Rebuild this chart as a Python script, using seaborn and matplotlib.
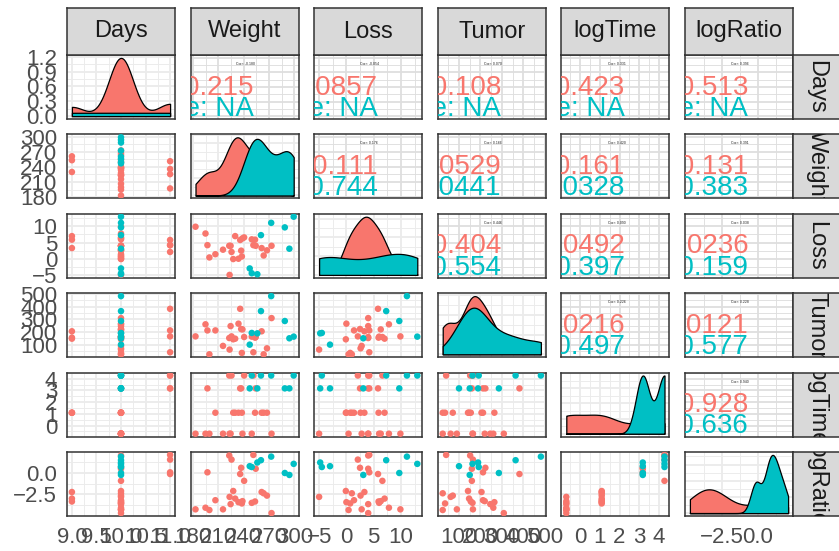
import numpy as np
import pandas as pd
import matplotlib
matplotlib.use("Agg")
import matplotlib.pyplot as plt
import seaborn as sns

# ---------------- data ----------------
variables = ["Days", "Weight", "Loss", "Tumor", "logTime", "logRatio"]
groups = ["Female", "Male"]
n_female, n_male = 26, 8

days_f = [10, 10, 11, 10, 10, 10, 10, 10, 10, 11, 10, 9, 10, 11, 10, 10, 10, 10, 10, 11, 9, 10, 9, 10, 10, 10]
weight_f = [183.1, 194.9, 197.2, 199.5, 206.6, 215.6, 223.0, 223.4, 224.6, 225.7, 227.7, 230.0, 233.9,
            235.9, 237.1, 237.9, 238.6, 240.6, 249.6, 251.5, 253.5, 254.3, 261.3, 263.7, 267.6, 273.0]
loss_f = [9.9, 7.8, 4.2, 0.4, 1.4, 2.8, 4.0, -5.0, 4.0, 2.1, -0.1, 7.0, 0.0,
          5.8, 2.5, 0.7, 6.3, 6.6, 6.0, 4.2, 5.9, 4.0, 3.3, 1.0, 2.6, 4.0]
tumor_f = [165, 260, 212, 24, 212, 90, 152, 61, 246, 165, 142, 147, 265,
           382, 223, 35, 220, 160, 163, 40, 155, 160, 205, 24, 71, 309]
logtime_f = [-0.693, -0.693, 3.178, -0.693, 1.099, -0.693, 4.277, -0.693, -0.693, 4.277, 1.099, 1.099, 1.099,
             3.178, 3.178, 1.099, -0.693, 4.277, -0.693, 4.277, 1.099, 3.178, 1.099, 1.099, 1.099, -0.693]
logratio_f = [-4.26, -4.07, 0.08, -4.34, -3.19, -4.26, 2.05, -2.8, -3.65, 1.57, -2.11, -3.0, -3.42,
              -0.12, 0.61, -3.57, -3.3, -0.92, -3.5, 2.12, -3.34, 0.5, -2.23, -2.38, -2.65, -4.7]

days_m = [10, 10, 10, 10, 10, 10, 10, 10]
weight_m = [247.2, 249.6, 256.2, 260.5, 272.6, 288.7, 294.1, 299.2]
loss_m = [-3.0, -4.5, -4.8, 7.3, 11.1, 9.7, 3.1, 13.0]
tumor_m = [100, 192, 189, 364, 482, 286, 150, 163]
logtime_m = [3.178, 4.277, 3.178, 4.277, 4.277, 3.178, 3.178, 4.277]
logratio_m = [0.8, 0.7, 1.23, 1.5, 1.92, 0.0, -0.23, 1.07]

# correlation labels shown in the upper panels (row-major upper triangle)
corr_female = ["-0.215", "-0.0857", "0.108", "0.423", "0.513",
               "-0.111", "0.0529", "0.161", "0.131",
               "0.404", "0.0492", "0.0236",
               "0.0216", "0.0121",
               "0.928"]
corr_male = ["NA", "NA", "NA", "NA", "NA",
             "0.744", "0.0441", "0.0328", "0.383",
             "0.554", "0.397", "0.159",
             "0.497", "0.577",
             "0.636"]

# tick values / labels
ticks = {
    "Days": [9.0, 9.5, 10.0, 10.5, 11.0],
    "Weight": [180, 210, 240, 270, 300],
    "Loss": [-5, 0, 5, 10],
    "Tumor": [100, 200, 300, 400, 500],
    "logTime": [0, 1, 2, 3, 4],
    "logRatio": [-2.5, 0.0],
}
tick_labels = {
    "Days": ["9.0", "9.5", "10.0", "10.5", "11.0"],
    "Weight": ["180", "210", "240", "270", "300"],
    "Loss": ["\u22125", "0", "5", "10"],
    "Tumor": ["100", "200", "300", "400", "500"],
    "logTime": ["0", "1", "2", "3", "4"],
    "logRatio": ["\u22122.5", "0.0"],
}
density_ticks = [0.0, 0.3, 0.6, 0.9, 1.2]
density_tick_labels = ["0.0", "0.3", "0.6", "0.9", "1.2"]

df = pd.DataFrame({
    "Days": days_f + days_m,
    "Weight": weight_f + weight_m,
    "Loss": loss_f + loss_m,
    "Tumor": tumor_f + tumor_m,
    "logTime": logtime_f + logtime_m,
    "logRatio": logratio_f + logratio_m,
    "Sex": [groups[0]] * n_female + [groups[1]] * n_male,
})

# ---------------- style ----------------
sns.set_theme(style="white")
plt.rcParams["font.family"] = ["Liberation Sans", "DejaVu Sans"]
palette = {"Female": "#F8766D", "Male": "#00BFC4"}
border_c = "#333333"
tick_c = "#4D4D4D"
grid_c = "#EBEBEB"
grid_c_up = "#DEDEDE"

W, H = 839, 551
fig = plt.figure(figsize=(W / 100, H / 100), dpi=100)
fig.patch.set_facecolor("white")

col_left = [67 + 123.6 * k for k in range(6)]
row_top = [55 + 79.4 * k for k in range(6)]
pw, ph = 108, 64
strip = 47


def rect(x, y, w, h):
    return [x / W, 1 - (y + h) / H, w / W, h / H]


def lims(v):
    lo, hi = df[v].min(), df[v].max()
    r = hi - lo
    return lo - 0.05 * r, hi + 0.05 * r


def minor_of(major, lo, hi):
    major = np.asarray(major, float)
    step = major[1] - major[0]
    cand = np.concatenate([[major[0] - step / 2], major + step / 2])
    return [c for c in cand if lo <= c <= hi]


def nrd0(x):
    x = np.asarray(x, float)
    n = len(x)
    hi = np.std(x, ddof=1)
    q75, q25 = np.percentile(x, [75, 25])
    lo = min(hi, (q75 - q25) / 1.34)
    if lo == 0:
        lo = hi if hi > 0 else (abs(x[0]) if x[0] != 0 else 1.0)
    return 0.9 * lo * n ** (-0.2)


def style_axes(ax, major_x, major_y, gc):
    xlo, xhi = ax.get_xlim()
    ylo, yhi = ax.get_ylim()
    ax.set_xticks(major_x)
    ax.set_yticks(major_y)
    ax.set_xticks(minor_of(major_x, xlo, xhi), minor=True)
    ax.set_yticks(minor_of(major_y, ylo, yhi), minor=True)
    ax.set_xlim(xlo, xhi)
    ax.set_ylim(ylo, yhi)
    ax.grid(which="major", color=gc, linewidth=1.3)
    ax.grid(which="minor", color=gc, linewidth=0.65)
    ax.set_axisbelow(True)
    for s in ax.spines.values():
        s.set_color(border_c)
        s.set_linewidth(1.1)
    ax.tick_params(which="minor", length=0)
    ax.tick_params(which="major", length=0, labelleft=False, labelbottom=False)
    ax.set_xlabel("")
    ax.set_ylabel("")


for i, yv in enumerate(variables):
    for j, xv in enumerate(variables):
        ax = fig.add_axes(rect(col_left[j], row_top[i], pw, ph))
        ax.set_facecolor("white")
        xlim = lims(xv)
        if i == j:
            grid_x = np.linspace(df[xv].min(), df[xv].max(), 512)
            ymax = 0
            for g in groups:
                vals = df.loc[df["Sex"] == g, xv].to_numpy(float)
                bw = nrd0(vals)
                dens = np.exp(-0.5 * ((grid_x[:, None] - vals[None, :]) / bw) ** 2).sum(1)
                dens = dens / (len(vals) * bw * np.sqrt(2 * np.pi))
                ymax = max(ymax, dens.max())
                ax.fill_between(grid_x, 0, dens, facecolor=palette[g], edgecolor="black",
                                linewidth=0.9, zorder=2)
            ax.set_xlim(*xlim)
            ax.set_ylim(-0.05 * ymax, 1.05 * ymax)
            if i == 0:
                ymaj = density_ticks
            else:
                ymaj = list(matplotlib.ticker.MaxNLocator(4).tick_values(0, ymax))
            style_axes(ax, ticks[xv], ymaj, grid_c)
        elif i > j:
            sns.scatterplot(data=df, x=xv, y=yv, hue="Sex", palette=palette, s=22,
                            linewidth=0, legend=False, ax=ax, zorder=3)
            ax.set_xlim(*xlim)
            ax.set_ylim(*lims(yv))
            style_axes(ax, ticks[xv], ticks[yv], grid_c)
        else:
            ax.set_xlim(*xlim)
            ax.set_ylim(*lims(yv))
            style_axes(ax, ticks[xv], ticks[yv], grid_c_up)
            k = sum(5 - r for r in range(i)) + (j - i - 1)
            r_all = np.corrcoef(df[xv], df[yv])[0, 1]
            ax.text(0.51, 0.86, f"Corr: {r_all:.3f}", transform=ax.transAxes, ha="center",
                    va="center", fontsize=2.5, color="#222222")
            ax.text(0.585, 0.38, f"{groups[0]}: {corr_female[k]}", transform=ax.transAxes,
                    ha="right", va="baseline", fontsize=20, color=palette["Female"], clip_on=True)
            ax.text(0.585, 0.05, f"{groups[1]}: {corr_male[k]}", transform=ax.transAxes,
                    ha="right", va="baseline", fontsize=20, color=palette["Male"], clip_on=True)

        # outer axis labels
        if j == 0:
            if i == 0:
                ax.set_yticks(density_ticks)
                ax.set_yticklabels(density_tick_labels)
            else:
                ax.set_yticklabels(tick_labels[yv])
            ax.tick_params(which="major", axis="y", length=4, width=1, color=border_c,
                           labelleft=True, labelsize=16, labelcolor=tick_c, pad=3)
        if i == 5:
            ax.set_xticklabels(tick_labels[xv])
            ax.tick_params(which="major", axis="x", length=4, width=1, color=border_c,
                           labelbottom=True, labelsize=16, labelcolor=tick_c, pad=4)

# strips
for j, v in enumerate(variables):
    sa = fig.add_axes(rect(col_left[j], row_top[0] - strip, pw, strip))
    sa.set_facecolor("#D9D9D9")
    sa.set_xticks([]); sa.set_yticks([])
    for s in sa.spines.values():
        s.set_color(border_c); s.set_linewidth(1.1)
    sa.text(0.5, 0.5, v, transform=sa.transAxes, ha="center", va="center",
            fontsize=17, color="#1A1A1A", clip_on=True)

for i, v in enumerate(variables):
    sa = fig.add_axes(rect(col_left[5] + pw, row_top[i], strip, ph))
    sa.set_facecolor("#D9D9D9")
    sa.set_xticks([]); sa.set_yticks([])
    for s in sa.spines.values():
        s.set_color(border_c); s.set_linewidth(1.1)
    sa.text(0.5, 0.5, v, transform=sa.transAxes, ha="center", va="center", rotation=-90,
            fontsize=17, color="#1A1A1A", clip_on=True)

fig.savefig("out.png", dpi=100, facecolor="white")
